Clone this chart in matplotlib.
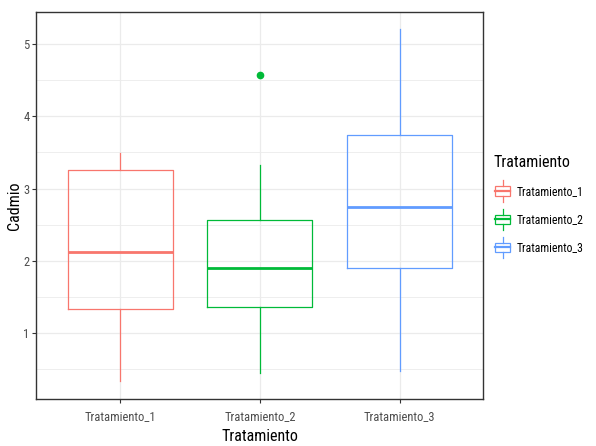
import matplotlib
matplotlib.use("Agg")
import matplotlib.pyplot as plt
from matplotlib.patches import Rectangle
from matplotlib.lines import Line2D
from matplotlib.legend_handler import HandlerBase

plt.rcParams['font.family'] = ['Roboto Condensed', 'Liberation Sans', 'DejaVu Sans']

# data (boxplot summary per group)
groups = ["Tratamiento_1", "Tratamiento_2", "Tratamiento_3"]
colors = ["#F8766D", "#00BA38", "#619CFF"]
whisker_low = [0.33, 0.44, 0.47]
q1 = [1.33, 1.36, 1.89]
median = [2.12, 1.89, 2.74]
q3 = [3.26, 2.56, 3.74]
whisker_high = [3.49, 3.33, 5.22]
outliers = [[], [4.58], []]


class BoxKeyHandler(HandlerBase):
    """Draws a small ggplot-like boxplot glyph in the legend."""
    def create_artists(self, legend, orig_handle, xdescent, ydescent,
                       width, height, fontsize, trans):
        c = orig_handle.get_edgecolor()
        x0, x1 = -xdescent + 0.1 * width, -xdescent + 0.9 * width
        xm = -xdescent + width / 2
        y0, y1 = -ydescent + 0.2 * height, -ydescent + 0.8 * height
        ym = -ydescent + height / 2
        arts = [
            Rectangle((x0, y0), x1 - x0, y1 - y0, fill=False, edgecolor=c, lw=0.9, transform=trans),
            Line2D([x0, x1], [ym, ym], color=c, lw=1.6, transform=trans),
            Line2D([xm, xm], [-ydescent - 0.2 * height, y0], color=c, lw=0.9, transform=trans),
            Line2D([xm, xm], [y1, -ydescent + 1.2 * height], color=c, lw=0.9, transform=trans),
        ]
        return arts


fig = plt.figure(figsize=(5.96, 4.46), dpi=100)
ax = fig.add_axes([0.061, 0.105, 0.750, 0.868])

stats = []
for i, g in enumerate(groups):
    stats.append(dict(label=g, whislo=whisker_low[i], q1=q1[i], med=median[i],
                      q3=q3[i], whishi=whisker_high[i], fliers=outliers[i]))

positions = list(range(1, len(groups) + 1))
for i, s in enumerate(stats):
    c = colors[i]
    ax.bxp([s], positions=[positions[i]], widths=0.75, showcaps=False,
           boxprops=dict(color=c, lw=0.9),
           whiskerprops=dict(color=c, lw=0.9),
           medianprops=dict(color=c, lw=2.0),
           flierprops=dict(marker='o', markerfacecolor=c, markeredgecolor=c, markersize=4.5),
           zorder=3)

ax.set_xlim(0.4, 3.6)
ax.set_ylim(0.075, 5.45)
ax.set_xticks(positions)
ax.set_xticklabels(groups)
ax.set_yticks([1, 2, 3, 4, 5])
ax.set_yticks([0.5, 1.5, 2.5, 3.5, 4.5], minor=True)

ax.grid(True, which='major', color='#EBEBEB', lw=0.9)
ax.grid(True, which='minor', axis='y', color='#EBEBEB', lw=0.6)
ax.set_axisbelow(True)

for sp in ax.spines.values():
    sp.set_color('#333333')
    sp.set_linewidth(1.0)

ax.tick_params(axis='both', which='major', colors='#333333', labelcolor='#4D4D4D',
               labelsize=9, length=3, width=0.8)
ax.tick_params(axis='x', pad=5)
ax.tick_params(axis='y', pad=2)
ax.tick_params(axis='both', which='minor', length=0)

ax.set_xlabel("Tratamiento", fontsize=11.5, color='black', labelpad=4)
ax.set_ylabel("Cadmio", fontsize=11.5, color='black', labelpad=1)

handles = [Rectangle((0, 0), 1, 1, fill=False, edgecolor=c) for c in colors]
leg = fig.legend(handles, groups, title="Tratamiento", loc='center left',
                 bbox_to_anchor=(0.828, 0.54), frameon=False, fontsize=8.5,
                 title_fontsize=11.5, handler_map={Rectangle: BoxKeyHandler()},
                 handlelength=1.6, handleheight=1.6, handletextpad=0.4,
                 labelspacing=1.1, borderaxespad=0, borderpad=0)
leg._legend_box.align = "left"

fig.savefig("out.png", dpi=100)
